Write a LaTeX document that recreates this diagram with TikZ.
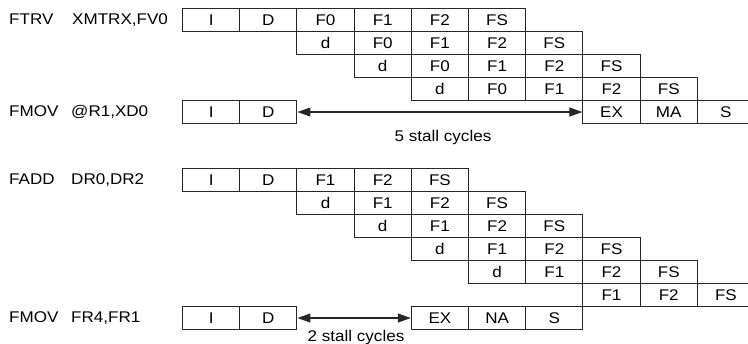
\documentclass[tikz,border=0pt]{standalone}
\usepackage{fontspec}
\setmainfont[FakeStretch=1.1]{Liberation Sans}
\usetikzlibrary{arrows.meta}
\tikzset{
  cell/.style={draw=black!85, line width=1.05pt, minimum width=57.2pt, minimum height=23pt,
    inner sep=0pt, anchor=north west, text height=10.7pt, text depth=0pt, font=\fontsize{15.5}{18}\selectfont},
  lbl/.style={anchor=base west, inner sep=0pt, font=\fontsize{15.5}{18}\selectfont},
  note/.style={inner sep=0pt, font=\fontsize{15.5}{18}\selectfont},
  stall/.style={draw=black!85, line width=1.05pt, {Triangle[length=13pt,width=9pt]}-{Triangle[length=13pt,width=9pt]}}
}
\newcommand\pcell[4]{\node[cell] (#1) at ({182+57.2*#2},#3) {#4};}
\begin{document}
\begin{tikzpicture}[x=1pt,y=-1pt]
\useasboundingbox (0,0) rectangle (748,344);
\clip (0,0) rectangle (748,344);
% labels
\node[lbl] (l1a) at (9,25) {FTRV};
\node[lbl] (l1b) at (72,25) {XMTRX,FV0};
\node[lbl] (l2a) at (9,117) {FMOV};
\node[lbl] (l2b) at (71,117) {@R1,XD0};
\node[lbl] (l3a) at (9,185) {FADD};
\node[lbl] (l3b) at (71,185) {DR0,DR2};
\node[lbl] (l4a) at (9,323) {FMOV};
\node[lbl] (l4b) at (71,323) {FR4,FR1};
% top section
\foreach \t [count=\i from 0] in {I,D,F0,F1,F2,FS} {\pcell{a\i}{\i}{8}{\t}}
\foreach \t [count=\i from 2] in {d,F0,F1,F2,FS} {\pcell{b\i}{\i}{31}{\t}}
\foreach \t [count=\i from 3] in {d,F0,F1,F2,FS} {\pcell{c\i}{\i}{54}{\t}}
\foreach \t [count=\i from 4] in {d,F0,F1,F2,FS} {\pcell{d\i}{\i}{77}{\t}}
\foreach \t [count=\i from 0] in {I,D} {\pcell{e\i}{\i}{100}{\t}}
\foreach \t [count=\i from 7] in {EX,MA,S} {\pcell{e\i}{\i}{100}{\t}}
\draw[stall] (e1.east) -- (e7.west);
\node[note] (s5) at (443,137) {5 stall cycles};
% bottom section
\foreach \t [count=\i from 0] in {I,D,F1,F2,FS} {\pcell{f\i}{\i}{168}{\t}}
\foreach \t [count=\i from 2] in {d,F1,F2,FS} {\pcell{g\i}{\i}{191}{\t}}
\foreach \t [count=\i from 3] in {d,F1,F2,FS} {\pcell{h\i}{\i}{214}{\t}}
\foreach \t [count=\i from 4] in {d,F1,F2,FS} {\pcell{i\i}{\i}{237}{\t}}
\foreach \t [count=\i from 5] in {d,F1,F2,FS} {\pcell{j\i}{\i}{260}{\t}}
\foreach \t [count=\i from 7] in {F1,F2,FS} {\pcell{k\i}{\i}{283}{\t}}
\foreach \t [count=\i from 0] in {I,D} {\pcell{m\i}{\i}{306}{\t}}
\foreach \t [count=\i from 4] in {EX,NA,S} {\pcell{m\i}{\i}{306}{\t}}
\draw[stall] (m1.east) -- (m4.west);
\node[note] (s2) at (356,337) {2 stall cycles};
\end{tikzpicture}
\end{document}
